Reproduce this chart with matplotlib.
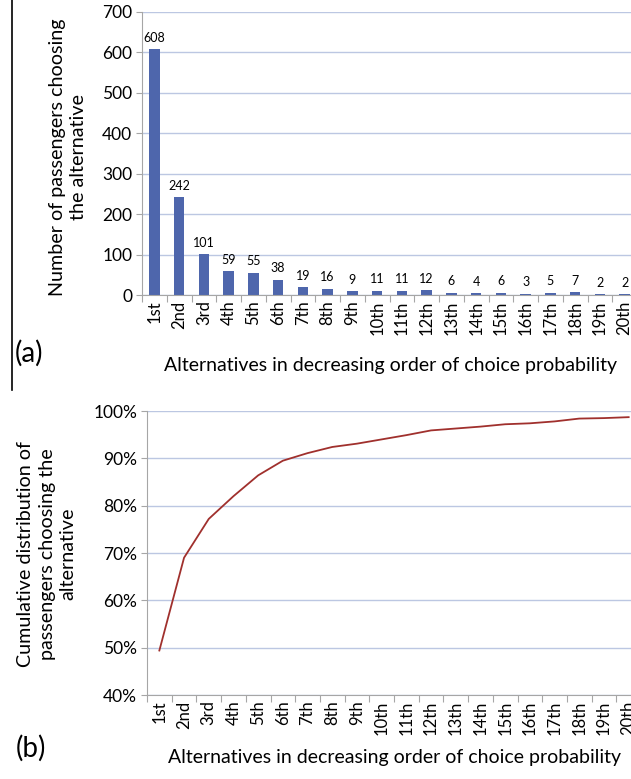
"""
Choice-rank chart: passengers per alternative (a) and cumulative share (b)
"""

import matplotlib.pyplot as plt
from matplotlib.lines import Line2D
from matplotlib.ticker import FuncFormatter

plt.rcParams['font.family'] = ['Lato', 'DejaVu Sans']

ranks = ['1st', '2nd', '3rd', '4th', '5th', '6th', '7th', '8th', '9th', '10th',
         '11th', '12th', '13th', '14th', '15th', '16th', '17th', '18th', '19th', '20th']
counts = [608, 242, 101, 59, 55, 38, 19, 16, 9, 11, 11, 12, 6, 4, 6, 3, 5, 7, 2, 2]
cum_pct = [49.4, 69.0, 77.2, 82.0, 86.4, 89.5, 91.1, 92.4, 93.1, 94.0,
           94.9, 95.9, 96.3, 96.7, 97.2, 97.4, 97.8, 98.4, 98.5, 98.7]

bar_color = '#4E66AC'
line_color = '#A0302D'
grid_color = '#BCC7E2'
axis_color = '#A6A6A6'

W, H = 631, 779
fig = plt.figure(figsize=(W / 100, H / 100), dpi=100)


def px_axes(left, top, right, bottom):
    return fig.add_axes([left / W, 1 - bottom / H, (right - left) / W, (bottom - top) / H])


def style_axes(ax):
    for side in ('top', 'right'):
        ax.spines[side].set_visible(False)
    ax.spines['left'].set_color(axis_color)
    ax.spines['bottom'].set_color(axis_color)
    ax.yaxis.grid(True, color=grid_color, linewidth=1)
    ax.set_axisbelow(True)
    ax.set_xlim(-0.5, len(ranks) - 0.5)
    # tick marks at category boundaries, labels at centres
    ax.set_xticks([i - 0.5 for i in range(len(ranks) + 1)])
    ax.set_xticklabels([])
    ax.set_xticks(range(len(ranks)), minor=True)
    ax.set_xticklabels(ranks, minor=True, rotation=90, fontsize=12)
    ax.tick_params(axis='x', which='major', length=5, color=axis_color, direction='out')
    ax.tick_params(axis='x', which='minor', length=0, pad=4)
    ax.tick_params(axis='y', length=4, color=axis_color, labelsize=12.5, pad=3)


# (a) counts
ax1 = px_axes(142, 12, 637, 295)
style_axes(ax1)
bars = ax1.bar(range(len(ranks)), counts, width=0.42, color=bar_color)
ax1.bar_label(bars, labels=[str(c) for c in counts], padding=4, fontsize=9)
ax1.set_ylim(0, 700)
ax1.set_yticks(range(0, 701, 100))

# (b) cumulative
ax2 = px_axes(147, 411, 641, 695)
style_axes(ax2)
ax2.plot(range(len(ranks)), cum_pct, color=line_color, linewidth=1.3)
ax2.set_ylim(40, 100)
ax2.set_yticks(range(40, 101, 10))
ax2.yaxis.set_major_formatter(FuncFormatter(lambda v, p: f'{v:.0f}%'))

# labels
fig.text(68 / W, 1 - 157 / H, 'Number of passengers choosing\nthe alternative',
         rotation=90, ha='center', va='center', multialignment='center',
         fontsize=14.2, linespacing=1.3)
fig.text(390 / W, 1 - 365 / H, 'Alternatives in decreasing order of choice probability',
         ha='center', va='center', fontsize=14)
fig.text(47 / W, 1 - 554 / H, 'Cumulative distribution of\npassengers choosing the\nalternative',
         rotation=90, ha='center', va='center', multialignment='center',
         fontsize=14.2, linespacing=1.3)
fig.text(395 / W, 1 - 757 / H, 'Alternatives in decreasing order of choice probability',
         ha='center', va='center', fontsize=14)

fig.text(29 / W, 1 - 353 / H, '(a)', ha='center', va='center', fontsize=20)
fig.text(31 / W, 1 - 748 / H, '(b)', ha='center', va='center', fontsize=20)

fig.add_artist(Line2D([12 / W, 12 / W], [1, 1 - 390 / H], color='black', linewidth=1.2))

fig.savefig('out.png', dpi=100)
